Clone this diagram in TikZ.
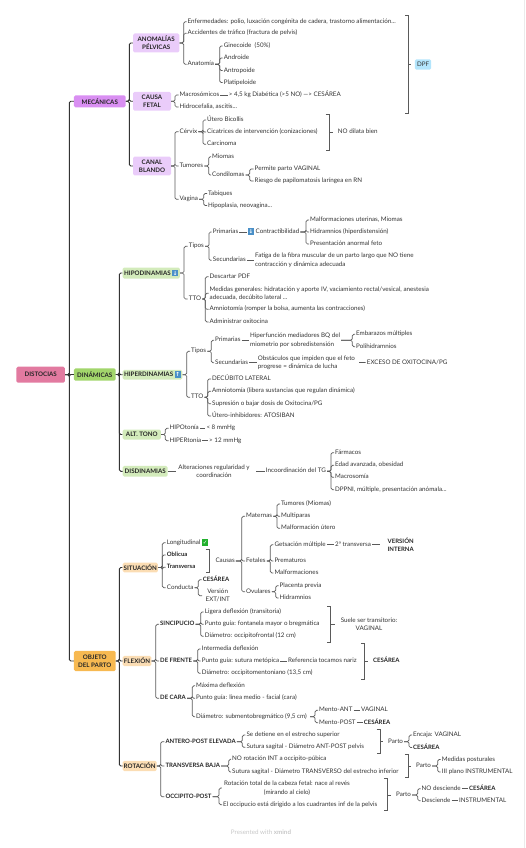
\documentclass[tikz,border=0pt]{standalone}
\usepackage{fontspec}
\setmainfont{Lato}
\newfontfamily\symfont{DejaVu Sans}
\usetikzlibrary{positioning,calc}
\definecolor{ink}{HTML}{333333}
\definecolor{wire}{HTML}{5A5A5A}
\definecolor{pinkroot}{HTML}{E27AA0}
\definecolor{violet}{HTML}{D98FF2}
\definecolor{violetsoft}{HTML}{EACCFA}
\definecolor{leaf}{HTML}{A2D56B}
\definecolor{leafsoft}{HTML}{D3EBBB}
\definecolor{amber}{HTML}{F7B951}
\definecolor{ambersoft}{HTML}{FBDDB4}
\definecolor{sky}{HTML}{B3E5FC}
\definecolor{emojiblue}{HTML}{4A90C8}
\definecolor{emojigreen}{HTML}{22B02E}
\newcommand{\mojicon}[2]{{\setlength{\fboxsep}{0.6pt}\colorbox{#1}{\makebox[5pt]{\rule[-0.6pt]{0pt}{5.4pt}\textcolor{white}{\symfont\bfseries\fontsize{5.6}{5.6}\selectfont #2}}}}}
% fan of links from a parent to its children, trunk at x
\newcommand{\fan}[4][link]{\foreach \k in {#4} {\draw[#1] (#2.east) -- (#2.east -| #3,0) |- (\k.west);}}
% square bracket closing a group, tick towards its label
\newcommand{\closer}[5]{%
    \draw[closing] (#1-3.5,#2) -- (#1,#2) -- (#1,#3) -- (#1-3.5,#3);
    \draw[closing, shorten >=#5pt] (#4.west -| #1,0) -- (#4.west);}
\tikzset{
    link/.style={wire, line width=0.7pt, rounded corners=1.5pt},
    mainlink/.style={ink, line width=0.9pt, rounded corners=1.5pt},
    closing/.style={wire, line width=0.8pt},
    lfm/.style={anchor=west, xshift=-1pt, inner sep=1pt, text=ink, font=\fontsize{6.25}{8.3}\selectfont, align=left},
    lf/.style={lfm, text height=4.6pt, text depth=1.4pt},
    lfc/.style={lfm, anchor=center, xshift=0pt, align=center},
    bd/.style={lf, font=\fontsize{6}{8.3}\selectfont\bfseries, text=black!85},
    bdc/.style={lfm, font=\fontsize{6}{8.3}\selectfont\bfseries, text=black!85, anchor=center, xshift=0pt, align=center},
    topic/.style={rounded corners=1.5pt, inner sep=0pt, align=center, text=black!85, font=\fontsize{6.2}{8}\selectfont\bfseries},
}
\begin{document}
\begin{tikzpicture}[x=1pt, y=-1pt]
\useasboundingbox (0,0) rectangle (525,848);
\fill[black!8] (524,0) rectangle (525,848);

% Root and main branches
\node[topic, fill=pinkroot, minimum width=48.5pt, minimum height=16pt] (root) at (40.7,374.7) {DISTOCIAS};
\node[topic, fill=violet, minimum width=51.7pt, minimum height=12pt] (mec) at (99.8,101.3) {MECÁNICAS};
\node[topic, fill=leaf, minimum width=41.7pt, minimum height=12.4pt] (din) at (94.8,374.5) {DINÁMICAS};
\node[topic, fill=amber, minimum width=41.7pt, minimum height=20.3pt] (obj) at (94.8,661) {OBJETO\\DEL PARTO};
\fan[mainlink]{root}{69.3}{mec,din,obj}

% Mecanicas
\node[topic, fill=violetsoft, minimum width=46.3pt, minimum height=19pt] (pel) at (156.2,43) {ANOMALÍAS\\PÉLVICAS};
\node[topic, fill=violetsoft, minimum width=38pt, minimum height=18.7pt] (caf) at (152,101.3) {CAUSA\\FETAL};
\node[topic, fill=violetsoft, minimum width=38pt, minimum height=18.7pt] (cab) at (152,166) {CANAL\\BLANDO};
\fan[mainlink]{mec}{129.3}{pel,caf,cab}

\node[lf] (enf) at (187.5,21.7) {Enfermedades: polio, luxación congénita de cadera, trastorno alimentación...};
\node[lf] (acc) at (187.5,33.3) {Accidentes de tráfico (fractura de pelvis)};
\node[lf] (ana) at (187.5,64.3) {Anatomía};
\fan{pel}{183.7}{enf,acc,ana}
\node[lf] (gin) at (223.7,46) {Ginecoide~ (50\%)};
\node[lf] (and) at (223.7,58) {Androide};
\node[lf] (ant) at (223.7,70.5) {Antropoide};
\node[lf] (pla) at (223.7,82.5) {Platipeloide};
\fan{ana}{219.7}{gin,and,ant,pla}

\node[lf] (mac) at (179.5,95) {Macrosómicos};
\node[lf] (kg) at (228.7,95) {> 4,5 kg Diabética (>5 NO) —> CESÁREA};
\node[lf] (hid) at (179.5,107) {Hidrocefalia, ascitis...};
\fan{caf}{175}{mac,hid}
\draw[link] (mac) -- (kg);

\node[lf] (cer) at (179.5,131.7) {Cérvix};
\node[lf] (tum) at (179.5,166) {Tumores};
\node[lf] (vag) at (179.5,199.3) {Vagina};
\fan{cab}{175}{cer,tum,vag}
\node[lf] (ute) at (207,120) {Útero Bicollis};
\node[lf] (cic) at (207,132) {Cicatrices de intervención (conizaciones)};
\node[lf] (car) at (207,144.3) {Carcinoma};
\fan{cer}{203}{ute,cic,car}
\node[lf] (mio) at (212,156.7) {Miomas};
\node[lf] (con) at (212,175) {Condilomas};
\fan{tum}{208.7}{mio,con}
\node[lf] (per) at (254.5,169) {Permite parto VAGINAL};
\node[lf] (rie) at (254.5,181) {Riesgo de papilomatosis laríngea en RN};
\fan{con}{249.7}{per,rie}
\node[lf] (tab) at (208,193.5) {Tabiques};
\node[lf] (hip) at (208,205.5) {Hipoplasia, neovagina...};
\fan{vag}{203.7}{tab,hip}

% Group labels of mecanicas
\node[lfm, fill=sky, rounded corners=1.5pt, inner xsep=0pt, minimum width=16.3pt, minimum height=10.4pt, align=center] (dpf) at (415.7,64.5) {DPF};
\closer{408.7}{15.7}{113}{dpf}{3.5}
\node[lf] (nod) at (337.7,132) {NO dilata bien};
\closer{329}{114.3}{150}{nod}{4}

% Dinamicas
\node[topic, fill=leafsoft, minimum width=57.3pt, minimum height=11pt] (hpo) at (151.3,273) {HIPODINAMIAS \mojicon{emojiblue}{↓}};
\node[topic, fill=leafsoft, minimum width=59.6pt, minimum height=9.7pt] (hpr) at (152.5,374.7) {HIPERDINAMIAS \mojicon{emojiblue}{↑}};
\node[topic, fill=leafsoft, minimum width=38.3pt, minimum height=10pt] (alt) at (141.8,434.5) {ALT. TONO};
\node[topic, fill=leafsoft, minimum width=45pt, minimum height=10.7pt] (dis) at (145.2,471.3) {DISDINAMIAS};
\fan[mainlink]{din}{119.3}{hpo,hpr,alt,dis}

% Hipodinamias
\node[lf] (tia) at (188.7,246.3) {Tipos};
\node[lf] (tta) at (188.7,299) {TTO};
\fan{hpo}{184}{tia,tta}
\node[lf] (pra) at (212.7,232) {Primarias};
\node[lf] (sea) at (212.7,260.3) {Secundarias};
\fan{tia}{209}{pra,sea}
\node[lf] (cot) at (247.7,232) {\mojicon{emojiblue}{↓} Contractibilidad};
\draw[link] (pra) -- (cot);
\node[lf] (mal) at (310,220) {Malformaciones uterinas, Miomas};
\node[lf] (hdr) at (310,232) {Hidramnios (hiperdistensión)};
\node[lf] (pre) at (310,244) {Presentación anormal feto};
\fan{cot}{306}{mal,hdr,pre}
\node[lfm] (fat) at (255,260.3) {Fatiga de la fibra muscular de un parto largo que NO tiene\\contracción y dinámica adecuada};
\draw[link] (sea) -- (fat);
\node[lf] (des) at (209.5,276.7) {Descartar PDF};
\node[lfm] (med) at (209.5,293.3) {Medidas generales: hidratación y aporte IV, vaciamiento rectal/vesical, anestesia\\adecuada, decúbito lateral ...};
\node[lf] (amn) at (209.5,309.3) {Amniotomía (romper la bolsa, aumenta las contracciones)};
\node[lf] (adm) at (209.5,322) {Administrar oxitocina};
\fan{tta}{205.3}{des,med,amn,adm}

% Hiperdinamias
\node[lf] (tib) at (191,351.3) {Tipos};
\node[lf] (ttb) at (191,397.3) {TTO};
\fan{hpr}{186.7}{tib,ttb}
\node[lf] (prb) at (215,340.3) {Primarias};
\node[lf] (seb) at (215,362.7) {Secundarias};
\fan{tib}{211.3}{prb,seb}
\node[lfm] (hfu) at (250,340.3) {Hiperfunción mediadores BQ del\\miometrio por sobredistensión};
\draw[link] (prb) -- (hfu);
\node[lf] (emb) at (356,334.3) {Embarazos múltiples};
\node[lf] (pol) at (356,346.7) {Polihidramnios};
\fan{hfu}{352.3}{emb,pol}
\node[lfm] (obs) at (257.7,362.7) {Obstáculos que impiden que el feto\\progrese = dinámica de lucha};
\draw[link] (seb) -- (obs);
\node[lf] (exc) at (366.7,362.5) {EXCESO DE OXITOCINA/PG};
\draw[link, shorten <=3pt] (obs) -- (exc);
\node[lf] (dec) at (212,379) {DECÚBITO LATERAL};
\node[lf] (amb) at (212,391.3) {Amniotomía (libera sustancias que regulan dinámica)};
\node[lf] (sup) at (212,403.7) {Supresión o bajar dosis de Oxitocina/PG};
\node[lf] (uti) at (212,416) {Útero-inhibidores: ATOSIBAN};
\fan{ttb}{207.7}{dec,amb,sup,uti}

% Alt. tono
\node[lf] (hit) at (169.5,428.3) {HIPOtonía};
\node[lf] (het) at (169.5,440.7) {HIPERtonía};
\fan{alt}{165.3}{hit,het}
\node[lf] (oho) at (206.3,428.3) {< 8 mmHg};
\node[lf] (doc) at (209,440.7) {> 12 mmHg};
\draw[link] (hit) -- (oho);
\draw[link] (het) -- (doc);

% Disdinamias
\node[lfc, minimum width=76pt] (reg) at (215,471.3) {Alteraciones regularidad y\\coordinación};
\node[lf] (inc) at (265.7,471.3) {Incoordinación del TG};
\draw[link] (dis) -- (reg);
\draw[link, shorten <=4pt] (reg) -- (inc);
\node[lf] (far) at (335,452.7) {Fármacos};
\node[lf] (eda) at (335,465.3) {Edad avanzada, obesidad};
\node[lf] (mcs) at (335,477.3) {Macrosomía};
\node[lf] (dpp) at (335,489.7) {DPPNI, múltiple, presentación anómala...};
\fan{inc}{331}{far,eda,mcs,dpp}

% Objeto del parto
\node[topic, fill=ambersoft, minimum width=35.3pt, minimum height=9.6pt] (sit) at (140.3,567.5) {SITUACIÓN};
\node[topic, fill=ambersoft, minimum width=28.6pt, minimum height=10.3pt] (fle) at (137,661) {FLEXIÓN};
\node[topic, fill=ambersoft, minimum width=34pt, minimum height=10.3pt] (rot) at (139.7,766) {ROTACIÓN};
\fan[mainlink]{obj}{119.3}{sit,fle,rot}

% Situacion
\node[lf] (lon) at (166.7,542.7) {Longitudinal \mojicon{emojigreen}{✓}};
\node[bd] (obl) at (166.7,555) {Oblicua};
\node[bd] (tra) at (166.7,567.3) {Transversa};
\node[lf] (cnd) at (166.7,587.7) {Conducta};
\fan{sit}{162.3}{lon,obl,tra,cnd}
\node[lf] (cau) at (215.3,561) {Causas};
\closer{209}{549.3}{572.7}{cau}{4}
\node[lf] (mat) at (246,516.3) {Maternas};
\node[lf] (fet) at (246,561) {Fetales};
\node[lf] (ovu) at (246,591.7) {Ovulares};
\fan{cau}{241.7}{mat,fet,ovu}
\node[lf] (tmo) at (281,504) {Tumores (Miomas)};
\node[lf] (mul) at (281,516.3) {Multiparas};
\node[lf] (mau) at (281,528.3) {Malformación útero};
\fan{mat}{277}{tmo,mul,mau}
\node[lf] (get) at (274.3,544.7) {Getsación múltiple};
\node[lf] (prm) at (274.3,561) {Prematuros};
\node[lf] (mlf) at (274.3,573) {Malformaciones};
\fan{fet}{270.3}{get,prm,mlf}
\node[lf] (seg) at (335,544.7) {2ª transversa};
\draw[link] (get) -- (seg);
\node[bdc, minimum width=30pt] (ver) at (401.7,544.7) {VERSIÓN\\INTERNA};
\draw[link, shorten >=6pt] (seg) -- (ver);
\node[lf] (plc) at (279.5,585.7) {Placenta previa};
\node[lf] (hdm) at (279.5,598) {Hidramnios};
\fan{ovu}{275.7}{plc,hdm}
\node[bd] (ces) at (202.7,579.7) {CESÁREA};
\node[lfc, minimum width=31pt] (vex) at (218.7,595.7) {Versión\\EXT/INT};
\fan{cnd}{198.3}{ces,vex}

% Flexion
\node[bd] (sin) at (160,624.3) {SINCIPUCIO};
\node[bd] (def) at (160,661) {DE FRENTE};
\node[bd] (dca) at (160,698.3) {DE CARA};
\fan{fle}{155.7}{sin,def,dca}
\node[lf] (lig) at (204.7,612) {Ligera deflexión (transitoria)};
\node[lf] (pgf) at (204.7,624.3) {Punto guía: fontanela mayor o bregmática};
\node[lf] (dio) at (204.7,636.3) {Diámetro: occipitofrontal (12 cm)};
\fan{sin}{200.7}{lig,pgf,dio}
\node[lf] (int) at (201.7,649) {Intermedia deflexión};
\node[lf] (pgs) at (201.7,661) {Punto guía: sutura metópica};
\node[lf] (rft) at (288,661) {Referencia tocamos nariz};
\node[lf] (dim) at (201.7,673.3) {Diámetro: occipitomentoniano (13,5 cm)};
\fan{def}{197.7}{int,pgs,dim}
\draw[link] (pgs) -- (rft);
\node[lf] (max) at (196,685.7) {Máxima deflexión};
\node[lf] (pgl) at (196,698.3) {Punto guía: línea medio - facial (cara)};
\node[lf] (dsb) at (196,716.7) {Diámetro: submentobregmático (9,5 cm)};
\fan{dca}{192.3}{max,pgl,dsb}
\node[lf] (man) at (319,710.3) {Mento-ANT};
\node[lf] (mpo) at (319,722.7) {Mento-POST};
\fan[link, shorten <=2pt]{dsb}{315}{man,mpo}
\node[lf] (vgl) at (361,710.3) {VAGINAL};
\node[bd] (csm) at (363.7,722.7) {CESÁREA};
\draw[link] (man) -- (vgl);
\draw[link] (mpo) -- (csm);
\node[lfc, minimum width=60pt] (sue) at (370,624.3) {Suele ser transitorio:\\VAGINAL};
\closer{330.7}{606.3}{642.3}{sue}{4}
\node[bd] (csf) at (373,661) {CESÁREA};
\closer{364.3}{643.3}{679}{csf}{4}

% Rotacion
\node[bd] (aep) at (165.3,741.7) {ANTERO-POST ELEVADA};
\node[bd] (tbj) at (165.3,766) {TRANSVERSA BAJA};
\node[bd] (ocp) at (165.3,796.7) {OCCIPITO-POST};
\fan{rot}{160.7}{aep,tbj,ocp}
\node[lf] (sed) at (246.3,735) {Se detiene en el estrecho superior};
\node[lf] (ssa) at (246.3,747.3) {Sutura sagital - Diámetro ANT-POST pelvis};
\fan{aep}{242.3}{sed,ssa}
\node[lf] (nor) at (232,759.3) {NO rotación INT a occipito-púbica};
\node[lf] (sst) at (232,772) {Sutura sagital - Diámetro TRANSVERSO del estrecho inferior};
\fan{tbj}{228.7}{nor,sst}
\node[lfc, minimum width=130pt] (rtt) at (288,788) {Rotación total de la cabeza fetal: nace al revés\\(mirando al cielo)};
\node[lf] (eoc) at (223,804.7) {El occipucio está dirigido a los cuadrantes inf de la pelvis};
\fan{ocp}{219}{rtt,eoc}

% Parto groups
\node[lf] (paa) at (388,741.7) {Parto};
\closer{380}{729.3}{753}{paa}{4}
\node[lf] (enc) at (413,735) {Encaja: VAGINAL};
\node[bd] (cse) at (413,747.5) {CESÁREA};
\fan{paa}{409}{enc,cse}
\node[lf] (pab) at (416,766) {Parto};
\closer{408.3}{754.3}{777.3}{pab}{4}
\node[lf] (pos) at (441.7,759.5) {Medidas posturales};
\node[lf] (iii) at (441.7,772) {III plano INSTRUMENTAL};
\fan{pab}{437.7}{pos,iii}
\node[lf] (pac) at (396,795) {Parto};
\closer{387.7}{778.7}{810.3}{pac}{4}
\node[lf] (nod2) at (421.5,788.7) {NO desciende};
\node[lf] (dsc) at (421.5,800.7) {Desciende};
\fan{pac}{417.7}{nod2,dsc}
\node[bd] (csn) at (469,788.7) {CESÁREA};
\node[lf] (ins) at (459,800.7) {INSTRUMENTAL};
\draw[link] (nod2) -- (csn);
\draw[link] (dsc) -- (ins);

% Footer
\node[lfc, text=black!22] (foot) at (262,832.3) {Presented with \textbf{xmind}};
\end{tikzpicture}
\end{document}
